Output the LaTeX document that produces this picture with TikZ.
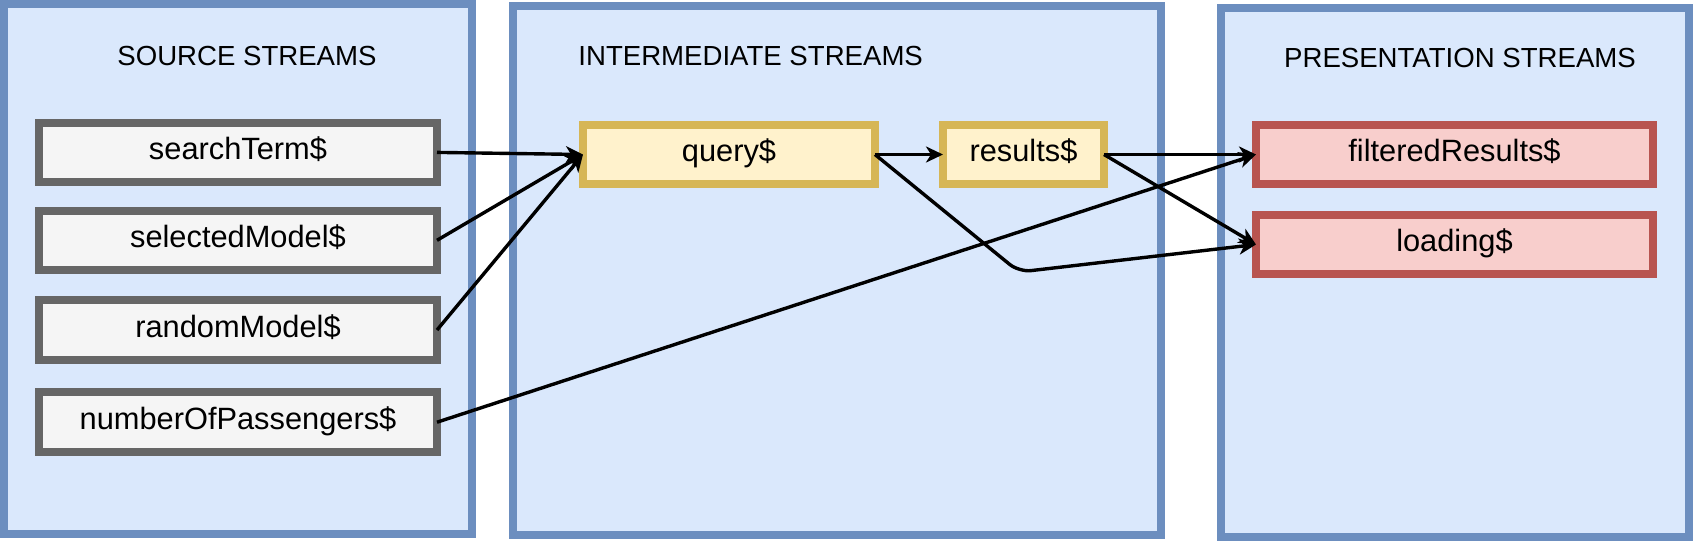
\documentclass[tikz,border=0pt]{standalone}
\usepackage{fontspec}
\setmainfont{Liberation Sans}
\usetikzlibrary{arrows.meta}
\definecolor{contfill}{HTML}{DAE8FC}
\definecolor{contdraw}{HTML}{6C8EBF}
\definecolor{srcfill}{HTML}{F5F5F5}
\definecolor{srcdraw}{HTML}{666666}
\definecolor{midfill}{HTML}{FFF2CC}
\definecolor{middraw}{HTML}{D6B656}
\definecolor{outfill}{HTML}{F8CECC}
\definecolor{outdraw}{HTML}{B85450}
\begin{document}
\begin{tikzpicture}[x=0.5pt,y=-0.5pt,
  container/.style={draw=contdraw,fill=contfill,line width=4pt,rectangle,inner sep=0pt,outer sep=0pt},
  title/.style={font=\fontsize{13.8}{16}\selectfont,anchor=base,inner sep=0pt},
  box/.style={rectangle,line width=4pt,inner sep=0pt,outer sep=0pt,minimum height=29.8pt,font=\fontsize{15.4}{18}\selectfont,text height=0.716em,text depth=0pt},
  srcbox/.style={box,draw=srcdraw,fill=srcfill,minimum width=199pt},
  midbox/.style={box,draw=middraw,fill=midfill},
  outbox/.style={box,draw=outdraw,fill=outfill,minimum width=198.5pt},
  flow/.style={draw=black,line width=1.7pt,-{Stealth[length=8.5pt,width=8pt,inset=2.5pt]}}
]
\useasboundingbox (0,0) rectangle (1693,541);
\fill[white] (0,0) rectangle (1693,541);

\node[container,minimum width=234pt,minimum height=265pt] (srcC) at (238,269) {};
\node[container,minimum width=323.75pt,minimum height=264.75pt] (midC) at (836.75,270.25) {};
\node[container,minimum width=234.25pt,minimum height=264.5pt] (outC) at (1454.75,272.5) {};

\node[title] (srcT) at (247,65.5) {SOURCE STREAMS};
\node[title,anchor=base west] (midT) at (578,65) {INTERMEDIATE STREAMS};
\node[title] (outT) at (1460,67) {PRESENTATION STREAMS};

\node[srcbox] (search) at (238,152.4) {searchTerm\$};
\node[srcbox] (selected) at (238,240.3) {selectedModel\$};
\node[srcbox] (random) at (238,330) {randomModel\$};
\node[srcbox] (passengers) at (238,422.2) {numberOfPassengers\$};

\node[midbox,minimum width=146pt] (query) at (729,154.5) {query\$};
\node[midbox,minimum width=80.5pt] (results) at (1023.5,154.5) {results\$};

\node[outbox] (filtered) at (1454.5,154.5) {filteredResults\$};
\node[outbox] (loading) at (1454.5,244.5) {loading\$};

\coordinate (bend) at (1019,272);

\draw[flow] (search.east) -- (query.west);
\draw[flow] (selected.east) -- (query.west);
\draw[flow] (random.east) -- (query.west);
\draw[flow] (passengers.east) -- (filtered.west);
\draw[flow] (query.east) -- (results.west);
\draw[flow,rounded corners=6pt] (query.east) -- (bend) -- (loading.west);
\draw[flow] (results.east) -- (filtered.west);
\draw[flow] (results.east) -- (loading.west);
\end{tikzpicture}
\end{document}
